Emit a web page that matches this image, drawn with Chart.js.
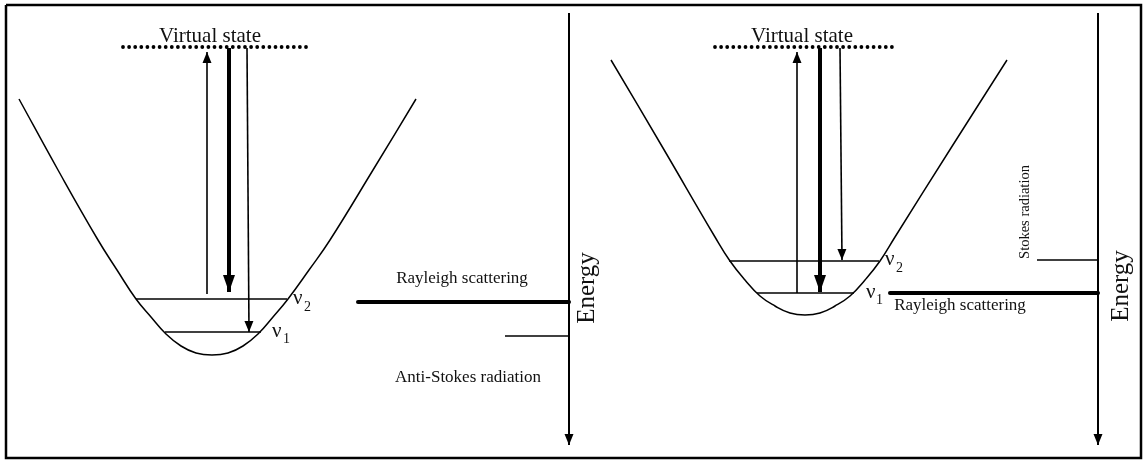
<!DOCTYPE html>
<html>
<head>
<meta charset="utf-8">
<script src="https://cdn.jsdelivr.net/npm/chart.js@4/dist/chart.umd.min.js"></script>
<style>
  html, body { margin: 0; padding: 0; background: #fff; }
  #diagram { display: block; }
</style>
</head>
<body>
<canvas id="diagram" width="1144" height="461"></canvas>
<script>
// ===== DATA (diagram units) =====
const frame = [[6, 5], [1141, 5], [1141, 458], [6, 458], [6, 5]];

// potential wells
const wellLeftX = [19, 58, 98, 117, 136, 151, 166, 181, 196, 212, 228, 243, 258, 273, 288, 309, 330, 373, 416];
const wellLeftY = [99, 170, 240, 270, 299, 317, 334, 346, 353, 355, 353, 346, 334, 317, 299, 270, 240, 170, 99];
const wellRightX = [611, 663, 715, 730, 745, 760, 775, 790, 805, 820, 835, 850, 865, 880, 895, 951, 1007];
const wellRightY = [60, 148, 237, 261, 280, 296, 306, 313, 315, 313, 306, 296, 280, 261, 237, 148, 60];

// vibrational levels
const leftV2 = [[136, 299], [287, 299]];
const leftV1 = [[165, 332], [261, 332]];
const rightV2 = [[729, 261], [879, 261]];
const rightV1 = [[757, 293], [854, 293]];

// virtual state (dotted)
const leftVirtual = [[123, 47], [306, 47]];
const rightVirtual = [[715, 47], [897, 47]];

// transitions
const leftUp = [[207, 294], [207, 52]];
const leftRayleighDown = [[229, 48], [229, 292]];
const leftRamanDown = [[247, 48], [249, 332]];
const rightUp = [[797, 293], [797, 52]];
const rightRayleighDown = [[820, 48], [820, 292]];
const rightRamanDown = [[840, 48], [842, 260]];

// energy scales
const leftEnergy = [[569, 13], [569, 445]];
const rightEnergy = [[1098, 13], [1098, 445]];
const leftRayleigh = [[358, 302], [569, 302]];
const rightRayleigh = [[890, 293], [1098, 293]];
const antiStokes = [[505, 336], [569, 336]];
const stokes = [[1037, 260], [1098, 260]];

// text
const labels = [
  { text: "Virtual state", x: 210, y: 42, size: 21, align: "center" },
  { text: "Virtual state", x: 802, y: 42, size: 21, align: "center" },
  { text: "Rayleigh scattering", x: 462, y: 283, size: 17, align: "center" },
  { text: "Anti-Stokes radiation", x: 468, y: 382, size: 17, align: "center" },
  { text: "Rayleigh scattering", x: 960, y: 310, size: 17, align: "center" },
  { text: "Energy", x: 594, y: 288, size: 25, align: "center", rot: -90 },
  { text: "Energy", x: 1128, y: 286, size: 25, align: "center", rot: -90 },
  { text: "Stokes radiation", x: 1029, y: 212, size: 14.5, align: "center", rot: -90 },
  { text: "\u03bd", x: 293, y: 304, size: 21, align: "left" },
  { text: "2", x: 304, y: 311, size: 14, align: "left" },
  { text: "\u03bd", x: 272, y: 337, size: 21, align: "left" },
  { text: "1", x: 283, y: 343, size: 14, align: "left" },
  { text: "\u03bd", x: 885, y: 265, size: 21, align: "left" },
  { text: "2", x: 896, y: 272, size: 14, align: "left" },
  { text: "\u03bd", x: 866, y: 298, size: 21, align: "left" },
  { text: "1", x: 876, y: 304, size: 14, align: "left" },
];

const FONT = '"Liberation Serif", "Times New Roman", serif';

// ===== HELPERS =====
function pts(list) {
  return list.map((p) => ({ x: p[0], y: p[1] }));
}
function curve(xs, ys) {
  return xs.map((x, i) => ({ x: x, y: ys[i] }));
}
function seg(list, width, extra) {
  return Object.assign(
    {
      data: pts(list),
      borderColor: "#000",
      borderWidth: width,
      showLine: true,
      pointRadius: 0,
      fill: false,
    },
    extra || {}
  );
}
function well(xs, ys) {
  return {
    data: curve(xs, ys),
    borderColor: "#000",
    borderWidth: 1.5,
    showLine: true,
    pointRadius: 0,
    fill: false,
    tension: 0.45,
  };
}

// arrow heads on the last point of a dataset
const arrowHeads = {
  id: "arrowHeads",
  afterDatasetsDraw(chart) {
    const ctx = chart.ctx;
    chart.data.datasets.forEach((ds, i) => {
      if (!ds.arrow) return;
      const el = chart.getDatasetMeta(i).data;
      const a = el[el.length - 2];
      const b = el[el.length - 1];
      const ang = Math.atan2(b.y - a.y, b.x - a.x);
      const len = ds.arrow.len;
      const half = ds.arrow.w / 2;
      ctx.save();
      ctx.translate(b.x, b.y);
      ctx.rotate(ang);
      ctx.beginPath();
      ctx.moveTo(0, 0);
      ctx.lineTo(-len, -half);
      ctx.lineTo(-len, half);
      ctx.closePath();
      ctx.fillStyle = "#000";
      ctx.fill();
      ctx.restore();
    });
  },
};

// text labels placed through the scales
const textLabels = {
  id: "textLabels",
  afterDatasetsDraw(chart) {
    const ctx = chart.ctx;
    const sx = chart.scales.x;
    const sy = chart.scales.y;
    labels.forEach((l) => {
      ctx.save();
      ctx.translate(sx.getPixelForValue(l.x), sy.getPixelForValue(l.y));
      if (l.rot) ctx.rotate((l.rot * Math.PI) / 180);
      ctx.font = l.size + "px " + FONT;
      ctx.fillStyle = "#111";
      ctx.textAlign = l.align;
      ctx.textBaseline = "alphabetic";
      ctx.fillText(l.text, 0, 0);
      ctx.restore();
    });
  },
};

const dotted = { borderDash: [0, 6.1], borderCapStyle: "round" };
const thinHead = { arrow: { len: 11, w: 9 } };
const thickHead = { arrow: { len: 17, w: 12 } };
const axisHead = { arrow: { len: 11, w: 9 } };

const datasets = [
  seg(frame, 2.5),
  well(wellLeftX, wellLeftY),
  well(wellRightX, wellRightY),
  seg(leftV2, 1.5),
  seg(leftV1, 1.5),
  seg(rightV2, 1.5),
  seg(rightV1, 1.5),
  seg(leftVirtual, 3.8, dotted),
  seg(rightVirtual, 3.8, dotted),
  seg(leftUp, 1.6, thinHead),
  seg(leftRayleighDown, 4, thickHead),
  seg(leftRamanDown, 1.6, thinHead),
  seg(rightUp, 1.6, thinHead),
  seg(rightRayleighDown, 4, thickHead),
  seg(rightRamanDown, 1.6, thinHead),
  seg(leftEnergy, 2, axisHead),
  seg(rightEnergy, 2, axisHead),
  seg(leftRayleigh, 4, { borderCapStyle: "round" }),
  seg(rightRayleigh, 4, { borderCapStyle: "round" }),
  seg(antiStokes, 1.5),
  seg(stokes, 1.5),
];

new Chart(document.getElementById("diagram"), {
  type: "scatter",
  data: { datasets },
  options: {
    responsive: false,
    animation: false,
    events: [],
    layout: { padding: 0 },
    scales: {
      x: { type: "linear", min: 0, max: 1144, display: false },
      y: { type: "linear", min: 0, max: 461, reverse: true, display: false },
    },
    plugins: { legend: { display: false }, tooltip: { enabled: false } },
  },
  plugins: [arrowHeads, textLabels],
});
</script>
</body>
</html>
